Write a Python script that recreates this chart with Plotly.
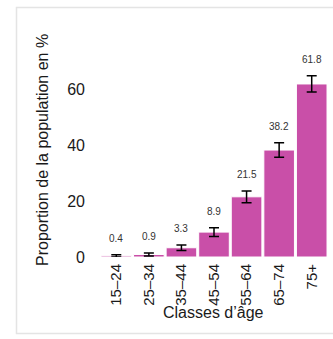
import plotly.graph_objects as go

# Age classes and share of the population (%) with their uncertainty
age_classes = ["15–24", "25–34", "35–44", "45–54", "55–64", "65–74", "75+"]
proportions = [0.4, 0.9, 3.3, 8.9, 21.5, 38.2, 61.8]
errors = [0.4, 0.55, 1.0, 1.55, 2.1, 2.6, 2.9]
yticks = [0, 20, 40, 60]

BAR_COLOR = "#C94FA8"
FONT = "Liberation Sans, Arial, sans-serif"

# Plot-area geometry (pixels) used to place free-floating text and the frame
W, H = 333, 339
L, R, T, B = 100, 5, 47, 82
PW, PH = W - L - R, H - T - B


def px_x(p):
    return (p - L) / PW


def px_y(p):
    return (H - B - p) / PH


fig = go.Figure()
fig.add_trace(
    go.Bar(
        x=age_classes,
        y=proportions,
        marker=dict(color=BAR_COLOR, line=dict(color="white", width=1)),
        error_y=dict(type="data", array=errors, visible=True,
                     color="black", thickness=1.5, width=5),
        hoverinfo="skip",
    )
)

# Value labels above each error bar
for cat, val, err in zip(age_classes, proportions, errors):
    fig.add_annotation(
        x=cat, y=val + err, text=f"{val:.1f}", showarrow=False,
        yanchor="middle", yshift=16,
        font=dict(family=FONT, size=10, color="#333333"),
    )

# Axis titles
fig.add_annotation(
    xref="paper", yref="paper", x=px_x(42), y=px_y(150),
    text="Proportion de la population en %", textangle=-90,
    showarrow=False, xanchor="center", yanchor="middle",
    font=dict(family=FONT, size=16, color="#1a1a1a"),
)
fig.add_annotation(
    xref="paper", yref="paper", x=px_x(213), y=px_y(312),
    text="Classes d’âge", showarrow=False,
    xanchor="center", yanchor="middle",
    font=dict(family=FONT, size=16, color="#1a1a1a"),
)

# Light frame around the figure, open on the right side
fx0, fx1 = px_x(16.5), px_x(340)
fy0, fy1 = px_y(333.5), px_y(7.5)
fig.add_shape(
    type="path", xref="paper", yref="paper",
    path=f"M {fx1},{fy1} L {fx0},{fy1} L {fx0},{fy0} L {fx1},{fy0}",
    line=dict(color="#e4e4e4", width=1.5), fillcolor="rgba(0,0,0,0)",
    layer="below",
)

fig.update_layout(
    width=W, height=H,
    margin=dict(l=L, r=R, t=T, b=B),
    paper_bgcolor="white", plot_bgcolor="white",
    bargap=0.06, showlegend=False,
    font=dict(family=FONT, size=16, color="#1a1a1a"),
)
fig.update_xaxes(
    tickangle=-90, showgrid=False, showline=False, zeroline=False,
    ticks="", ticklabelstandoff=3,
    tickfont=dict(family=FONT, size=15, color="#1a1a1a"),
)
fig.update_yaxes(
    range=[0, 75], tickvals=yticks, showgrid=False, showline=False,
    zeroline=False, ticks="", ticklabelstandoff=14,
    tickfont=dict(family=FONT, size=16, color="#1a1a1a"),
)

fig.write_html("out.html")
